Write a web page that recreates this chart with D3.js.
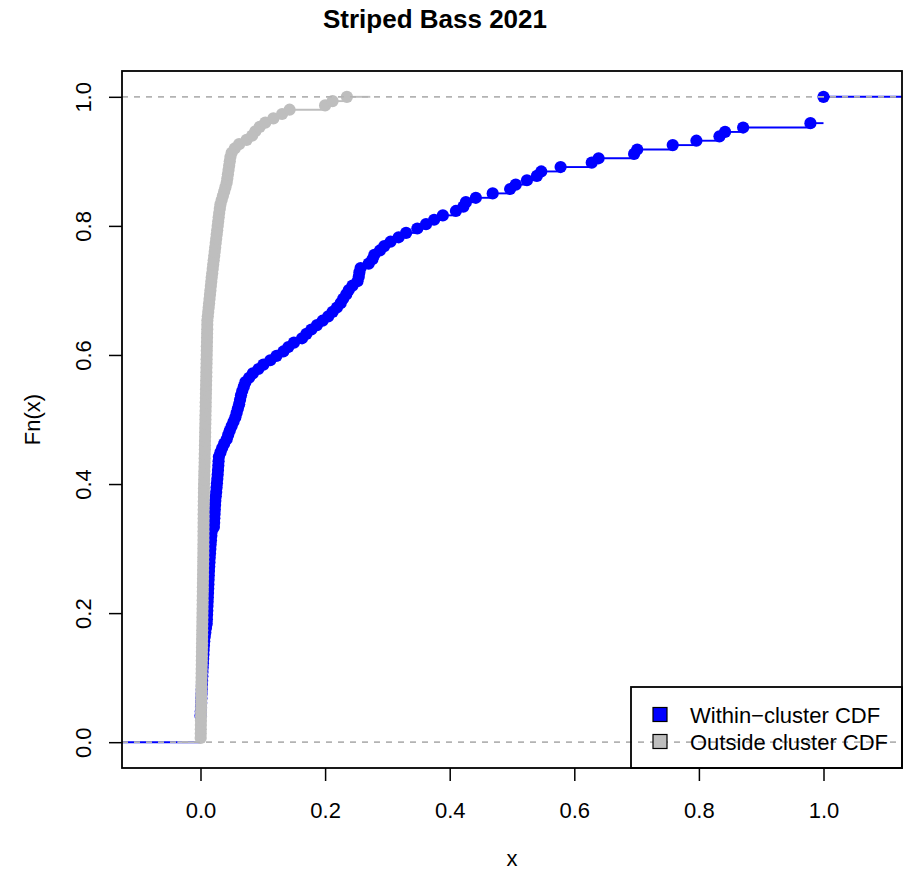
<!DOCTYPE html>
<html>
<head>
<meta charset="utf-8">
<script src="https://cdn.jsdelivr.net/npm/d3@7"></script>
<style>
body { margin: 0; background: #ffffff; }
text { font-family: "Liberation Sans", Arial, sans-serif; fill: #000000; }
</style>
</head>
<body>
<div id="mainDiv"></div>
<script>
// sorted sample values (within-cluster, n = 147)
var withinVals = [
  0, 0, 0, 0, 0, 0,
  0.0004, 0.0008, 0.0011, 0.0014, 0.0017, 0.0020, 0.0023, 0.0026, 0.0029, 0.0032,
  0.0035, 0.0039, 0.0043, 0.0047, 0.0051, 0.0055, 0.0060,
  0.0068, 0.0077, 0.0088, 0.0100,
  0.0103, 0.0106, 0.0109, 0.0112, 0.0115, 0.0118, 0.0121, 0.0124, 0.0127, 0.0130,
  0.0133, 0.0136, 0.0140,
  0.0144, 0.0148, 0.0153, 0.0158, 0.0163, 0.0168, 0.0174, 0.0180,
  0.0215, 0.0219, 0.0222, 0.0226, 0.0230, 0.0234, 0.0238,
  0.0245, 0.0252, 0.0258, 0.0264, 0.0270, 0.0276, 0.0281, 0.0286, 0.0290,
  0.0295, 0.0320, 0.0348, 0.0380, 0.0420,
  0.0445, 0.0470, 0.0500, 0.0530, 0.0560,
  0.0580, 0.0600, 0.0620, 0.0635, 0.0650, 0.0670, 0.0695, 0.0720,
  0.0780, 0.0840, 0.0930, 0.1010,
  0.112, 0.122, 0.133, 0.141, 0.150, 0.163, 0.170, 0.178, 0.187, 0.196,
  0.205, 0.212, 0.219, 0.225, 0.229, 0.234, 0.238, 0.244, 0.252, 0.254,
  0.255, 0.257, 0.270, 0.276, 0.279, 0.288, 0.295, 0.305, 0.318, 0.330,
  0.348, 0.362, 0.375, 0.389, 0.410, 0.422, 0.426, 0.442, 0.469, 0.497,
  0.506, 0.524, 0.540, 0.547, 0.578, 0.628, 0.639, 0.696, 0.701, 0.758,
  0.796, 0.833, 0.842, 0.871, 0.979,
  1, 1, 1, 1, 1, 1
];

// sorted sample values (outside cluster, n = 150)
var outsideVals = [
  0.0003, 0.0004, 0.0005, 0.0006, 0.0007, 0.0008, 0.0009, 0.0010, 0.0011, 0.0012,
  0.0013, 0.0014, 0.0015, 0.0016, 0.0017, 0.0018, 0.0019, 0.0020, 0.0021, 0.0022,
  0.0023, 0.0024, 0.0025, 0.0026, 0.0027, 0.0028, 0.0029, 0.0030, 0.0031, 0.0032,
  0.0033, 0.0034, 0.0035, 0.0036, 0.0037, 0.0038, 0.0039, 0.0040, 0.0041, 0.0042,
  0.0043, 0.0044, 0.0045, 0.0046, 0.00465, 0.0047, 0.00475, 0.0048, 0.00485, 0.0049,
  0.00495, 0.0050, 0.00505, 0.0051, 0.0052, 0.0053, 0.0054, 0.0055, 0.0056, 0.0057,
  0.0059, 0.0061, 0.0062, 0.0064, 0.0066, 0.0067,
  0.0068, 0.0070, 0.0071, 0.0072, 0.0074, 0.0075, 0.0076, 0.0078, 0.0079, 0.0080,
  0.0082, 0.0083, 0.0084, 0.0086, 0.0087, 0.0088, 0.0090, 0.0091, 0.0093, 0.0094,
  0.0095, 0.0097, 0.0098, 0.0100, 0.0101, 0.0102, 0.0104, 0.0105, 0.0106, 0.0108,
  0.0109, 0.0110,
  0.0117, 0.0124, 0.0131, 0.0138, 0.0145, 0.0152, 0.0159, 0.0166, 0.0173, 0.0180,
  0.0188, 0.0196, 0.0204, 0.0212, 0.0220, 0.0228, 0.0236, 0.0244, 0.0252, 0.0260,
  0.0268, 0.0276, 0.0284, 0.0292, 0.0300,
  0.031, 0.032, 0.034, 0.036, 0.038, 0.040, 0.042, 0.043, 0.044, 0.045,
  0.046, 0.047, 0.048, 0.050, 0.055, 0.062, 0.074, 0.083, 0.088, 0.095,
  0.104, 0.117, 0.131, 0.143, 0.200, 0.212, 0.235
];

var xTicks = [0, 0.2, 0.4, 0.6, 0.8, 1.0];
var yTicks = [0, 0.2, 0.4, 0.6, 0.8, 1.0];
var legendNames = ["Within\u2212cluster CDF", "Outside cluster CDF"];
var legendColors = ["#0000FF", "#BEBEBE"];

var plotLeft = 122, plotRight = 902, plotTop = 71, plotBottom = 768;

var mySvg = d3.select("#mainDiv").append("svg")
              .attr("width", 904)
              .attr("height", 872);

var x = d3.scaleLinear().domain([-0.126, 1.126]).range([plotLeft, plotRight]);
var y = d3.scaleLinear().domain([-0.04, 1.04]).range([plotBottom, plotTop]);

mySvg.append("clipPath")
     .attr("id", "plotClip")
     .append("rect")
     .attr("x", plotLeft)
     .attr("y", plotTop)
     .attr("width", plotRight - plotLeft)
     .attr("height", plotBottom - plotTop);

var plotArea = mySvg.append("g").attr("clip-path", "url(#plotClip)");

// like R's plot.ecdf: horizontal steps, a dot at every jump
function drawEcdf(vals, color) {
    var knots = Array.from(new Set(vals)).sort(d3.ascending);
    var n = vals.length;
    var fn = knots.map(function(k) {
        return vals.filter(function(v) { return v <= k; }).length / n;
    });
    var dr = 0.08 * (knots[knots.length - 1] - knots[0]);
    var ti = [knots[0] - 2 * dr].concat(knots).concat([knots[knots.length - 1] + 2 * dr]);
    var levels = [0].concat(fn);
    var segs = levels.map(function(l, i) {
        return { x0: ti[i], x1: ti[i + 1], y: l };
    });

    var g = plotArea.append("g");
    g.selectAll("line")
     .data(segs)
     .enter()
     .append("line")
     .attr("x1", function(d) { return x(d.x0); })
     .attr("x2", function(d) { return x(d.x1); })
     .attr("y1", function(d) { return y(d.y); })
     .attr("y2", function(d) { return y(d.y); })
     .attr("stroke", color)
     .attr("stroke-width", 1.9);

    g.selectAll("circle")
     .data(knots)
     .enter()
     .append("circle")
     .attr("cx", function(d) { return x(d); })
     .attr("cy", function(d, i) { return y(fn[i]); })
     .attr("r", 6.1)
     .attr("fill", color);
}

function drawRefLines() {
    plotArea.append("g")
            .selectAll("line")
            .data([0, 1])
            .enter()
            .append("line")
            .attr("x1", plotLeft)
            .attr("x2", plotRight)
            .attr("y1", function(d) { return y(d); })
            .attr("y2", function(d) { return y(d); })
            .attr("stroke", "#B3B3B3")
            .attr("stroke-width", 1.5)
            .attr("stroke-dasharray", "6,6");
}

drawEcdf(withinVals, legendColors[0]);
drawRefLines();
drawEcdf(outsideVals, legendColors[1]);
drawRefLines();

// axes
var xAxis = mySvg.append("g")
     .attr("transform", "translate(0," + plotBottom + ")")
     .call(d3.axisBottom(x).tickValues(xTicks).tickFormat(d3.format(".1f")).tickSize(13));
xAxis.select(".domain").remove();
xAxis.selectAll("line").attr("stroke", "#000").attr("stroke-width", 1.5);
xAxis.selectAll("text")
     .attr("y", 50)
     .attr("dy", 0)
     .style("font-size", "22px")
     .style("font-family", "Liberation Sans, Arial, sans-serif");

var yAxis = mySvg.append("g")
     .attr("transform", "translate(" + plotLeft + ",0)")
     .call(d3.axisLeft(y).tickValues(yTicks).tickFormat(d3.format(".1f")).tickSize(13));
yAxis.select(".domain").remove();
yAxis.selectAll("line").attr("stroke", "#000").attr("stroke-width", 1.5);
yAxis.selectAll("text")
     .attr("x", 0)
     .attr("dy", 0)
     .attr("text-anchor", "middle")
     .attr("transform", "translate(-31,0) rotate(-90)")
     .style("font-size", "22px")
     .style("font-family", "Liberation Sans, Arial, sans-serif");

// plot box
mySvg.append("rect")
     .attr("x", plotLeft)
     .attr("y", plotTop)
     .attr("width", plotRight - plotLeft)
     .attr("height", plotBottom - plotTop)
     .attr("fill", "none")
     .attr("stroke", "#000")
     .attr("stroke-width", 1.8);

// labels
mySvg.append("text")
     .text("Striped Bass 2021")
     .attr("x", 435)
     .attr("y", 28)
     .attr("text-anchor", "middle")
     .style("font-size", "26px")
     .style("font-weight", "bold");

mySvg.append("text")
     .text("x")
     .attr("x", (plotLeft + plotRight) / 2)
     .attr("y", 866)
     .attr("text-anchor", "middle")
     .style("font-size", "22px");

mySvg.append("text")
     .text("Fn(x)")
     .attr("transform", "translate(40," + ((plotTop + plotBottom) / 2) + ") rotate(-90)")
     .attr("text-anchor", "middle")
     .style("font-size", "22px");

// legend (no fill, the dashed line shows through)
mySvg.append("rect")
     .attr("x", 631)
     .attr("y", 687)
     .attr("width", plotRight - 631)
     .attr("height", plotBottom - 687)
     .attr("fill", "none")
     .attr("stroke", "#000")
     .attr("stroke-width", 1.8);

var legendRows = mySvg.selectAll(".legendRow")
     .data(legendNames)
     .enter()
     .append("g")
     .attr("class", "legendRow")
     .attr("transform", function(d, i) { return "translate(0," + (714.5 + i * 27) + ")"; });

legendRows.append("rect")
     .attr("x", 653)
     .attr("y", -7)
     .attr("width", 14)
     .attr("height", 14)
     .attr("fill", function(d, i) { return legendColors[i]; })
     .attr("stroke", "#000")
     .attr("stroke-width", 1.2);

legendRows.append("text")
     .text(function(d) { return d; })
     .attr("x", 690)
     .attr("y", 8)
     .style("font-size", "22px");
</script>
</body>
</html>
